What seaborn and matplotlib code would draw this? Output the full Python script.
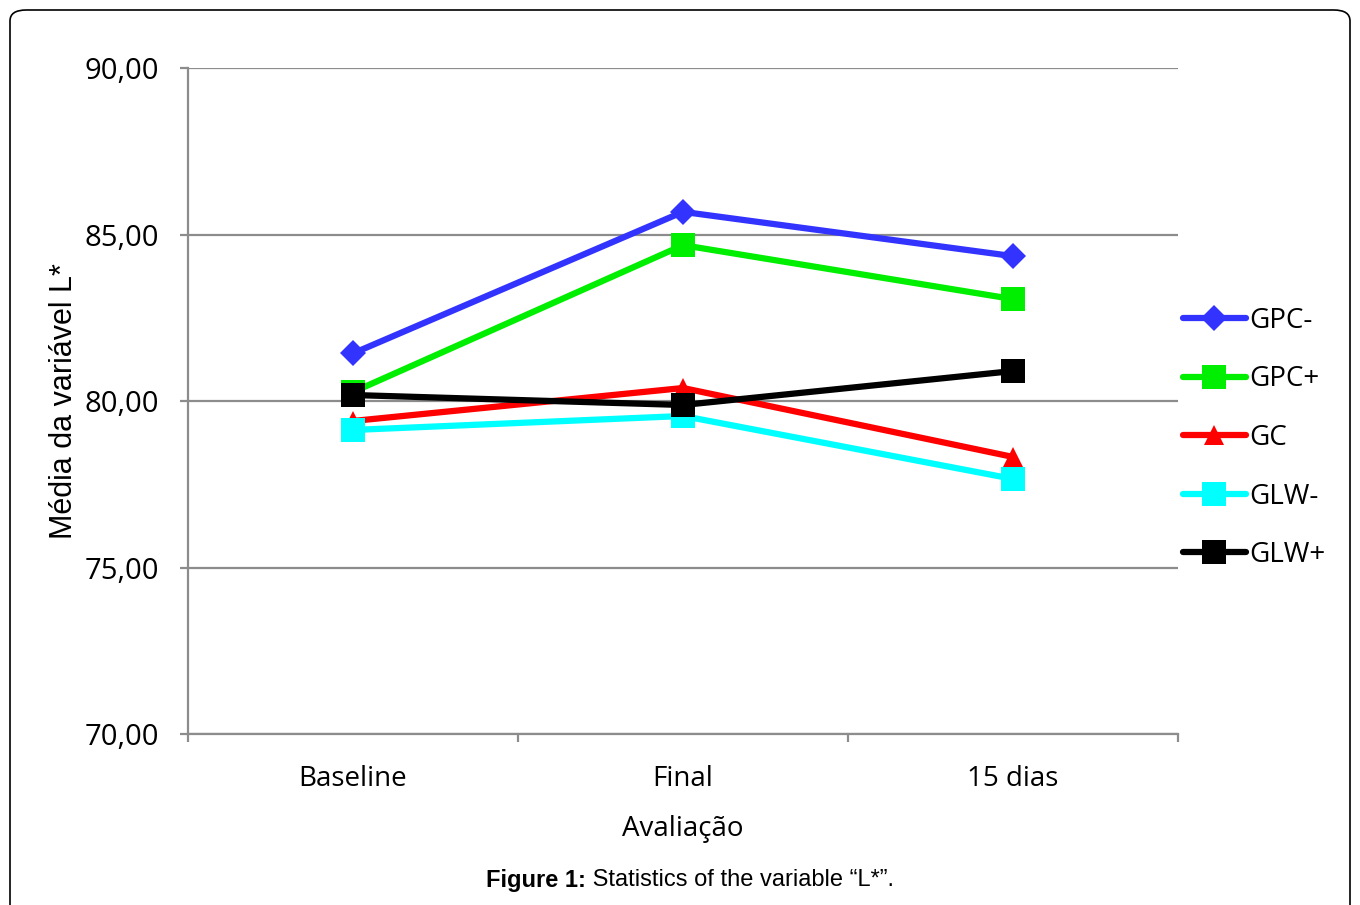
import matplotlib
matplotlib.use("Agg")
import matplotlib.pyplot as plt
import seaborn as sns
import pandas as pd
from matplotlib.lines import Line2D
from matplotlib.patches import FancyBboxPatch
from matplotlib.ticker import FixedLocator, FuncFormatter

categories = ["Baseline", "Final", "15 dias"]
groups = ["GPC-", "GPC+", "GC", "GLW-", "GLW+"]
gpc_minus = [81.43, 85.68, 84.35]
gpc_plus = [80.27, 84.68, 83.06]
gc = [79.40, 80.39, 78.32]
glw_minus = [79.13, 79.55, 77.66]
glw_plus = [80.18, 79.88, 80.90]
y_ticks = [70, 75, 80, 85, 90]

colors = {"GPC-": "#3333FF", "GPC+": "#00EE00", "GC": "#FF0000",
          "GLW-": "#00FFFF", "GLW+": "#000000"}
markers = {"GPC-": "D", "GPC+": "s", "GC": "^", "GLW-": "s", "GLW+": "s"}
msizes = {"D": 13, "s": 17, "^": 15}

series = [gpc_minus, gpc_plus, gc, glw_minus, glw_plus]
rows = []
for g, vals in zip(groups, series):
    for i, v in enumerate(vals):
        rows.append({"grupo": g, "pos": i, "val": v})
df = pd.DataFrame(rows)

sns.set_theme(style="white")
plt.rcParams['font.family'] = ['Open Sans', 'DejaVu Sans']

fig = plt.figure(figsize=(13.6, 9.05), dpi=100)
ax = fig.add_axes([188/1360, 1-734/905, 990/1360, 666/905])

# draw series one by one so each marker gets its own size
for g in groups:
    sub = df[df["grupo"] == g]
    sns.lineplot(data=sub, x="pos", y="val", color=colors[g],
                 marker=markers[g], markersize=msizes[markers[g]],
                 markeredgewidth=0, lw=4.5, ax=ax, legend=False, sort=False)

ax.set_xlim(-0.5, 2.5)
ax.set_ylim(70, 90)
ax.set_yticks(y_ticks)
ax.yaxis.set_major_formatter(FuncFormatter(lambda v, p: f"{v:.2f}".replace(".", ",")))
ax.xaxis.set_major_locator(FixedLocator([-0.5, 0.5, 1.5, 2.5]))
ax.set_xticklabels([], minor=False)
ax.set_xticks([0, 1, 2], minor=True)
ax.set_xticklabels(categories, minor=True)

gray = "#8c8c8c"
ax.grid(axis="y", color=gray, lw=1.6)
ax.grid(axis="x", visible=False)
ax.set_axisbelow(True)
for s in ["top", "right"]:
    ax.spines[s].set_visible(False)
for s in ["left", "bottom"]:
    ax.spines[s].set_color(gray)
    ax.spines[s].set_linewidth(1.6)

ax.tick_params(axis="y", which="major", direction="out", length=6, width=1.6,
               color=gray, labelsize=21, pad=15, left=True, labelcolor="black")
ax.tick_params(axis="x", which="major", direction="out", length=6, width=1.6,
               color=gray, bottom=True)
ax.tick_params(axis="x", which="minor", length=0, labelsize=20, pad=22,
               labelcolor="black", bottom=True)

ax.set_xlabel("Avaliação", fontsize=20, labelpad=16, color="black")
ax.set_ylabel("Média da variável L*", fontsize=22,
              family=["Liberation Sans", "DejaVu Sans"], color="black")
ax.yaxis.set_label_coords(-0.11, 0.5)

handles = [Line2D([0], [0], color=colors[g], lw=4.5, marker=markers[g],
                  markersize=msizes[markers[g]],
                  markeredgewidth=0, solid_capstyle="round")
           for g in groups]
leg = fig.legend(handles, groups, loc="center left",
                 bbox_to_anchor=(1172/1360, 1-438/905), frameon=False,
                 fontsize=20, handlelength=2.25, handletextpad=0.12,
                 labelspacing=1.1, borderaxespad=0)
for t in leg.get_texts():
    t.set_color("black")

frame = FancyBboxPatch((10/1360, -0.05), 1340/1360, 1.05 - 10/905,
                       boxstyle="round,pad=0,rounding_size=0.012",
                       transform=fig.transFigure, fill=False,
                       edgecolor="black", lw=1.2, clip_on=False)
fig.add_artist(frame)

fig.text(586/1360, 1-880/905, "Figure 1:", ha="right", va="center",
         fontsize=17, fontweight="bold", family="Liberation Sans", color="black")
fig.text(586/1360, 1-880/905, " Statistics of the variable “L*”.", ha="left",
         va="center", fontsize=17, family=["Liberation Sans", "DejaVu Sans"],
         color="black")

fig.savefig("out.png", dpi=100)
